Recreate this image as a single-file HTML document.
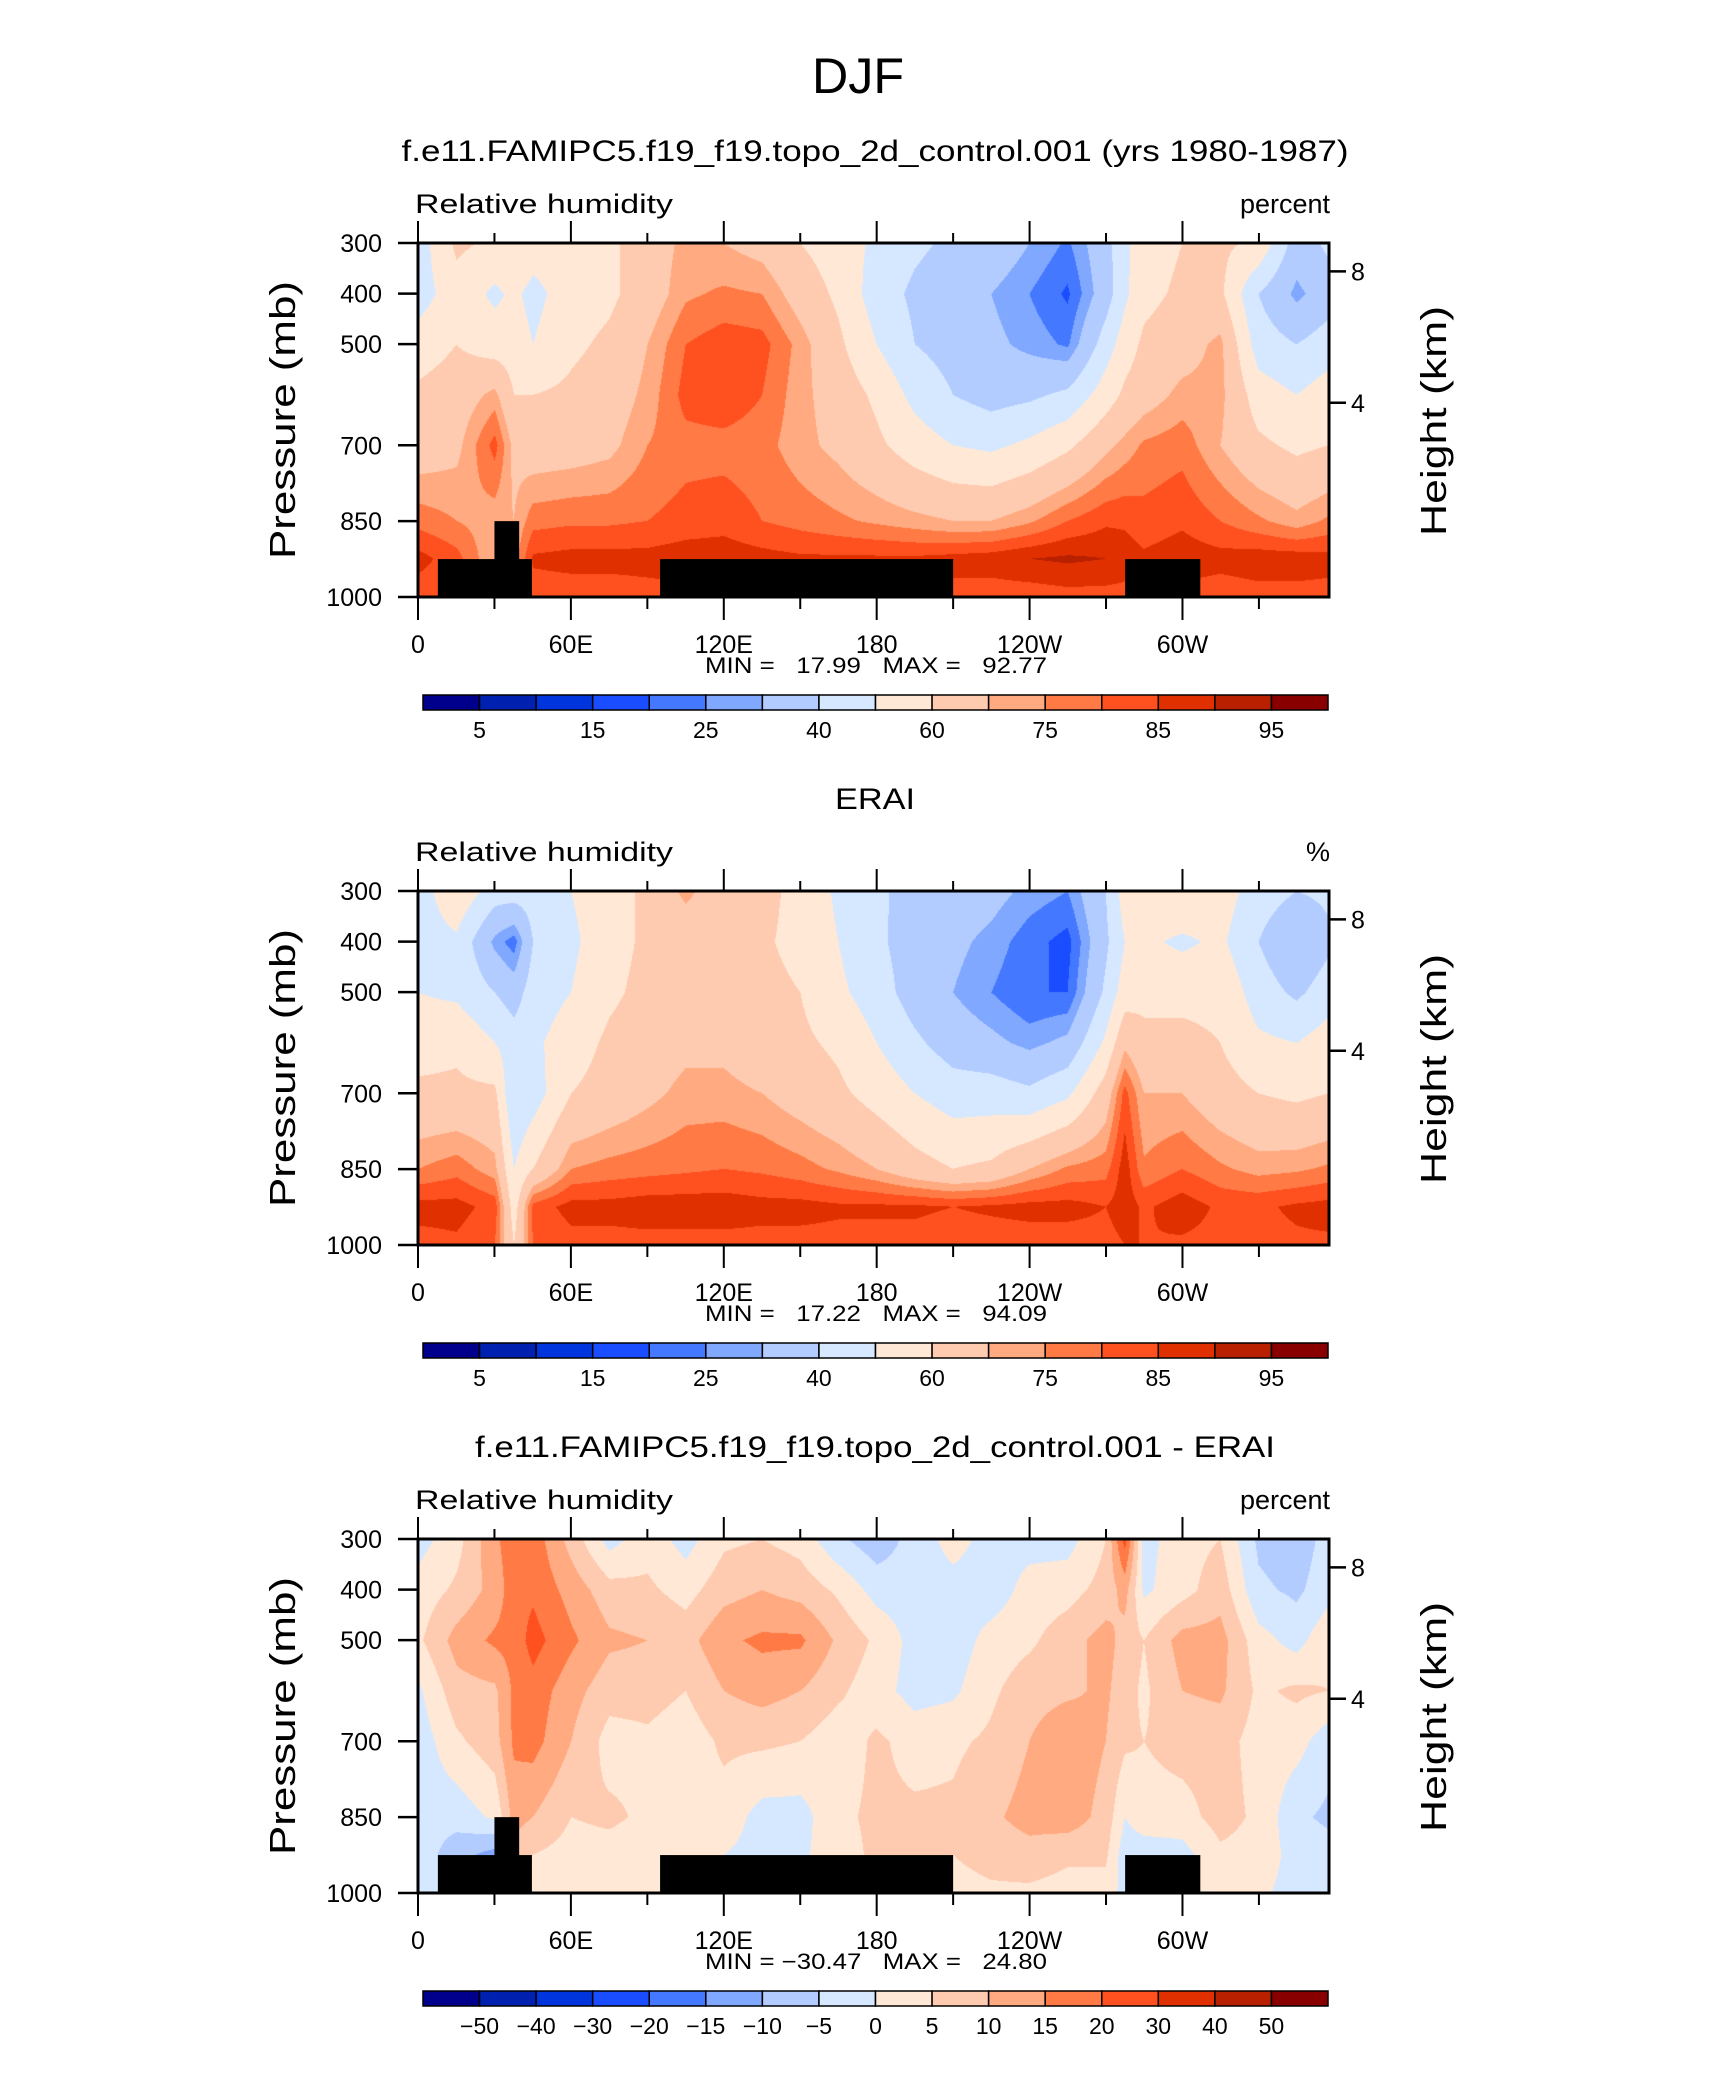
<!DOCTYPE html>
<html><head><meta charset="utf-8"><style>
html,body{margin:0;padding:0;background:#fff;}
#wrap{position:relative;width:1710px;height:2074px;overflow:hidden;}
canvas{position:absolute;}
svg{position:absolute;left:0;top:0;}
text{font-family:"Liberation Sans",sans-serif;fill:#000;white-space:pre;}
</style></head><body>
<div id="wrap">
<canvas id="c0"></canvas>
<canvas id="c1"></canvas>
<canvas id="c2"></canvas>
<svg id="s" width="1710" height="2074"></svg>
</div>
<script>
// ---- data ----
const lons = [0,15,30,37.5,45,60,75,90,105,120,135,150,165,180,195,210,225,240,255,270,277.5,285,300,315,330,345,357.5];
const levels = [300,400,500,600,700,850,925,1000];
const modelRH = [
[45,45,55,62,65,78,87,82],[62,56,60,65,68,75,82,80],[58,48,55,72,82,72,70,70],[60,52,55,60,68,70,72,72],
[55,47,50,60,65,78,86,82],[55,55,58,62,66,79,87,82],[58,58,62,65,68,79,87,82],[65,65,70,72,75,80,87,83],
[72,74,80,82,78,82,88,83],[70,76,83,84,78,83,88,83],[67,75,82,80,77,80,87,83],[60,66,73,72,72,78,86,83],
[55,58,62,66,68,76,86,83],[48,45,50,58,62,74,86,83],[42,38,40,47,55,72,86,83],[38,34,36,40,50,70,87,83],
[36,30,32,36,48,70,88,82],[30,25,28,38,52,74,90,82],[24,19,24,42,58,80,91,83],[36,35,45,55,68,84,90,83],
[48,48,55,62,72,84,88,83],[55,57,62,66,76,82,86,83],[60,62,66,72,78,84,88,83],[62,62,72,72,70,80,87,82],
[58,40,45,55,62,76,88,83],[35,28,40,50,58,72,88,83],[42,35,45,55,60,76,87,83]];
const eraiRH = [
[45,45,50,56,62,75,87,83],[58,48,48,58,62,78,87,84],[45,28,40,50,62,72,83,80],[45,22,35,45,40,50,55,60],
[45,40,45,48,45,60,82,80],[50,48,50,55,60,75,87,83],[56,56,58,62,64,77,87,83],[62,62,63,65,68,78,88,83],
[72,64,65,68,72,79,88,83],[64,62,64,68,72,80,88,83],[62,61,62,64,70,79,87,83],[58,58,60,62,66,77,87,83],
[48,50,52,58,62,74,86,83],[42,42,45,50,56,70,86,83],[36,35,35,42,50,64,86,83],[35,32,30,35,45,60,85,82],
[33,28,25,32,45,62,86,82],[28,22,20,28,42,70,87,82],[25,18,20,32,48,76,87,82],[40,38,42,52,65,78,85,83],
[55,50,55,68,82,88,88,85],[58,52,58,62,70,76,84,85],[60,48,58,62,70,80,88,84],[55,52,58,60,64,76,84,83],
[45,40,45,52,60,73,84,83],[40,30,38,50,58,74,86,84],[42,38,45,55,60,76,87,84]];
const diffRH = [
[-2,2,4,-1,-3,-3,-2,-2],[3,6,12,8,4,-3,-8,-6],[14,12,16,9,8,1,-12,-8],[18,18,17,16,16,12,8,5],
[18,19,22,18,17,10,5,3],[8,13,16,12,10,5,3,2],[-2,7,11,7,3,6,3,3],[3,6,10,7,4,4,2,2],
[-2,3,8,5,2,4,2,2],[4,8,14,10,6,3,0,1],[5,10,16,12,6,-2,-2,1],[3,8,16,10,5,-2,-1,1],
[-4,4,9,6,2,4,3,2],[-8,-2,4,2,6,6,6,3],[-3,-3,-2,-2,3,6,6,3],[2,-2,-3,-1,4,6,5,3],
[-2,-3,2,4,6,9,7,4],[-2,2,4,8,10,12,8,4],[-2,3,8,9,14,13,6,3],[5,7,12,11,10,8,6,3],
[22,12,8,7,6,0,-3,-2],[-2,-1,5,4,5,3,-3,-2],[3,3,12,10,7,3,-2,-2],[5,8,12,11,7,7,4,2],
[-6,-4,2,4,3,4,3,1],[-8,-6,-2,6,2,-4,-2,-2],[-3,-2,4,5,-3,-6,-3,-2]];
const rhLevels = [5,10,15,20,25,30,40,50,60,70,75,80,85,90,95];
const rhLabels = ["5","","15","","25","","40","","60","","75","","85","","95"];
const diffLevels = [-50,-40,-30,-20,-15,-10,-5,0,5,10,15,20,30,40,50];
const diffLabels = ["\u221250","\u221240","\u221230","\u221220","\u221215","\u221210","\u22125","0","5","10","15","20","30","40","50"];
const colors = ["#00008c","#0020b0","#0034dc","#1a4dff","#4478ff","#80a8ff","#b3ccff","#d6e8ff","#ffe9d6","#ffcbb0","#ffaa80","#ff7a45","#ff5020","#e03000","#b82000","#880000"];
const topoStart = [7.8, 30, 95, 277.5];
const topoEnd = [44.7, 39.7, 210, 307];
const topoTop = [925, 850, 925, 925];

// ---- layout ----
const X0=418, W=911, H=354, LONMAX=357.5;
const tops=[243,891,1539];
const xOf = lon => X0 + lon/LONMAX*W;
const yOf = (p,k) => tops[k] + (p-300)/700*H;

function hex(c){return [parseInt(c.substr(1,2),16),parseInt(c.substr(3,2),16),parseInt(c.substr(5,2),16)];}
const rgb = colors.map(hex);
function findIdx(arr,v){let i=0;while(i<arr.length-2&&v>arr[i+1])i++;return i;}
function drawField(k,data,lev,id){
  const cv=document.getElementById(id);
  cv.width=W;cv.height=H;cv.style.left=X0+'px';cv.style.top=tops[k]+'px';
  const ctx=cv.getContext('2d');const img=ctx.createImageData(W,H);
  for(let x=0;x<W;x++){
    const lon=x/(W-1)*LONMAX;const i=findIdx(lons,lon);
    const tx=Math.min(1,Math.max(0,(lon-lons[i])/(lons[i+1]-lons[i])));
    for(let y=0;y<H;y++){
      const p=300+y/(H-1)*700;const j=findIdx(levels,p);
      const ty=Math.min(1,Math.max(0,(p-levels[j])/(levels[j+1]-levels[j])));
      const v=(data[i][j]*(1-tx)+data[i+1][j]*tx)*(1-ty)+(data[i][j+1]*(1-tx)+data[i+1][j+1]*tx)*ty;
      let b=0;while(b<lev.length&&v>=lev[b])b++;
      const c=rgb[b];const o=(y*W+x)*4;
      img.data[o]=c[0];img.data[o+1]=c[1];img.data[o+2]=c[2];img.data[o+3]=255;
    }
  }
  ctx.putImageData(img,0,0);
}
drawField(0,modelRH,rhLevels,'c0');
drawField(1,eraiRH,rhLevels,'c1');
drawField(2,diffRH,diffLevels,'c2');

const S=document.getElementById('s');const NS='http://www.w3.org/2000/svg';
function el(tag,attrs,txt){const e=document.createElementNS(NS,tag);for(const a in attrs)e.setAttribute(a,attrs[a]);if(txt!==undefined)e.textContent=txt;S.appendChild(e);return e;}
function line(x1,y1,x2,y2,w){return el('line',{x1,y1,x2,y2,stroke:'#000','stroke-width':w||2});}

let t=el('text',{x:858,y:93,'font-size':50,'text-anchor':'middle','font-weight':'100',textLength:92,lengthAdjust:'spacingAndGlyphs'},'DJF');



const titles=[["f.e11.FAMIPC5.f19_f19.topo_2d_control.001 (yrs 1980-1987)",947],["ERAI",80],["f.e11.FAMIPC5.f19_f19.topo_2d_control.001 - ERAI",800]];
const units=["percent","%","percent"];
const mins=["MIN =   17.99   MAX =   92.77","MIN =   17.22   MAX =   94.09","MIN = \u221230.47   MAX =   24.80"];
const heights=[[8,356],[4,616]];
for(let k=0;k<3;k++){
  const T=tops[k], B=T+H;
  t=el('text',{x:875,y:T-82,'font-size':30,'text-anchor':'middle',textLength:titles[k][1],lengthAdjust:'spacingAndGlyphs'},titles[k][0]);
  
  
  t=el('text',{x:415,y:T-30,'font-size':27,textLength:258,lengthAdjust:'spacingAndGlyphs'},'Relative humidity');
  
  
  t=el('text',{x:1330,y:T-30,'font-size':27,'text-anchor':'end'},units[k]);
  
  
  if(k!==1){
    for(let i=0;i<topoStart.length;i++){
      const r=el('rect',{x:xOf(topoStart[i]),y:yOf(topoTop[i],k),width:xOf(topoEnd[i])-xOf(topoStart[i]),height:B-yOf(topoTop[i],k),fill:'#000'});
      
      
    }
  }
  const f=el('rect',{x:X0,y:T,width:W,height:H,fill:'none',stroke:'#000','stroke-width':3});
  
  
  const xl=["0","60E","120E","180","120W","60W"];
  for(let lon=0;lon<=330;lon+=30){
    const major=lon%60===0;const x=xOf(lon);
    line(x,B,x,B+(major?23:12),2);line(x,T,x,T-(major?22:10),2);
    if(major){t=el('text',{x:x,y:B+56,'font-size':25,'text-anchor':'middle'},xl[lon/60]);
      
      }
  }
  [300,400,500,700,850,1000].forEach(p=>{const y=yOf(p,k);line(X0-20,y,X0,y,2.5);
    t=el('text',{x:382,y:y+9,'font-size':25,'text-anchor':'end'},String(p));
    
    });
  heights.forEach(h=>{const y=yOf(h[1],k);line(X0+W,y,X0+W+17,y,2.5);
    t=el('text',{x:1351,y:y+9,'font-size':25},String(h[0]));
    
    });
  t=el('text',{x:0,y:0,'font-size':36,'text-anchor':'middle',textLength:278,lengthAdjust:'spacingAndGlyphs',transform:`translate(295,${T+177}) rotate(-90)`},'Pressure (mb)');
  
  
  t=el('text',{x:0,y:0,'font-size':36,'text-anchor':'middle',textLength:230,lengthAdjust:'spacingAndGlyphs',transform:`translate(1446,${T+178}) rotate(-90)`},'Height (km)');
  
  
  t=el('text',{x:876,y:B+76,'font-size':22,'text-anchor':'middle',textLength:342,lengthAdjust:'spacingAndGlyphs','xml:space':'preserve'},mins[k]);
  
  
  const cy=B+98, cw=(1328-423)/16;
  for(let i=0;i<16;i++){
    const r=el('rect',{x:423+i*cw,y:cy,width:cw,height:15,fill:colors[i],stroke:'#000','stroke-width':1.5});
    
    
  }
  const labs=k===2?diffLabels:rhLabels;
  labs.forEach((s,i)=>{if(!s)return;
    t=el('text',{x:423+(i+1)*cw,y:cy+43,'font-size':23,'text-anchor':'middle'},s);
    
    });
}
</script>
</body></html>
